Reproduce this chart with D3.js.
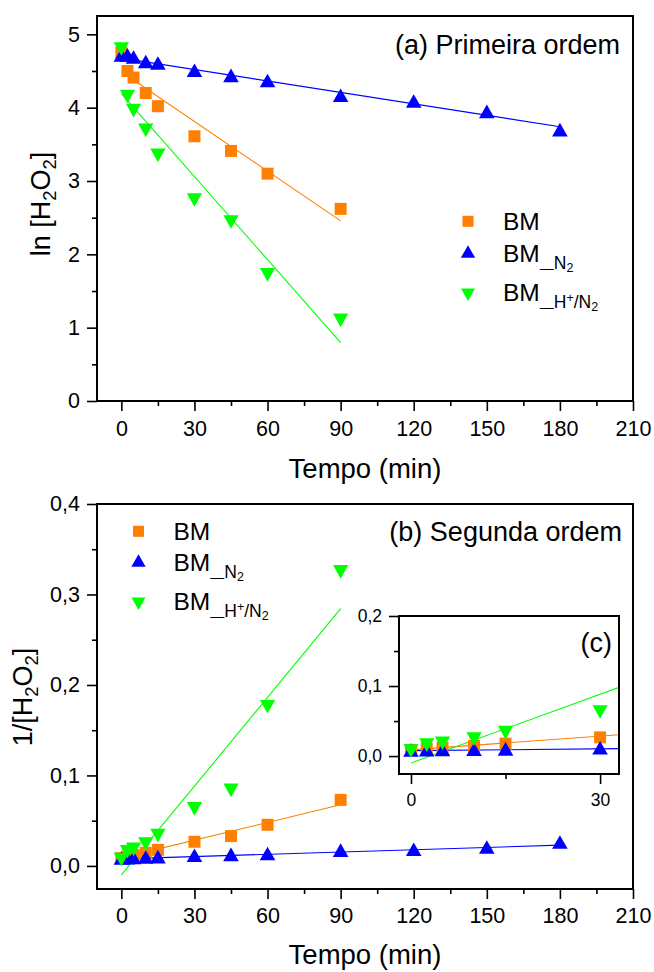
<!DOCTYPE html>
<html><head><meta charset="utf-8">
<script src="https://cdn.jsdelivr.net/npm/d3@7"></script>
<style>
body{margin:0;background:#fff}
svg{display:block}
text{font-family:"Liberation Sans",Arial,Helvetica,sans-serif;fill:#000}
</style>
</head><body>
<svg id="chart" width="654" height="972"></svg>
<script>
// ---------------- data ----------------
const timeBM  = [0, 2.5, 5, 10, 15, 30, 45, 60, 90];
const timeN2  = [0, 2.5, 5, 10, 15, 30, 45, 60, 90, 120, 150, 180];
const timeHN2 = [0, 2.5, 5, 10, 15, 30, 45, 60, 90];

// (a) ln[H2O2]
const lnBM  = [4.75, 4.50, 4.41, 4.20, 4.02, 3.61, 3.41, 3.10, 2.62];
const lnN2  = [4.72, 4.72, 4.69, 4.63, 4.61, 4.51, 4.44, 4.37, 4.17, 4.09, 3.95, 3.70];
const lnHN2 = [4.80, 4.15, 3.96, 3.69, 3.35, 2.74, 2.44, 1.72, 1.10];

// (b) 1/[H2O2]
const invBM  = [0.0087, 0.0105, 0.012, 0.0145, 0.0178, 0.0267, 0.033, 0.0455, 0.073];
const invN2  = [0.0088, 0.009, 0.0093, 0.0098, 0.0103, 0.0118, 0.0128, 0.0138, 0.0175, 0.0185, 0.021, 0.0265];
const invHN2 = [0.007, 0.0157, 0.0183, 0.0242, 0.0335, 0.063, 0.0835, 0.176, 0.325];

// linear fits: [intercept, slope, tStart, tEnd]
const fitLnBM  = [4.49, -0.0226, 0, 90];
const fitLnN2  = [4.676, -0.0052, 0, 180];
const fitLnHN2 = [4.19, -0.0377, 0, 90];
const fitInvBM  = [0.0089, 0.000652, 0, 90];
const fitInvN2  = [0.0078, 0.0000842, 0, 180];
const fitInvHN2 = [-0.0099, 0.00327, 0, 90];

// ticks
const xTicks = [0, 30, 60, 90, 120, 150, 180, 210];
const xMinor = [15, 45, 75, 105, 135, 165, 195];
const lnTicks = [0, 1, 2, 3, 4, 5];
const lnMinor = [0.5, 1.5, 2.5, 3.5, 4.5];
const invTicks = [0, 0.1, 0.2, 0.3, 0.4];
const invMinor = [0.05, 0.15, 0.25, 0.35];
const insetXTicks = [0, 30];
const insetXMinor = [15];
const insetYTicks = [0, 0.1, 0.2];
const insetYMinor = [0.05, 0.15];

const seriesNames = ["BM", "BM_N2", "BM_H+/N2"];
const colors = ["#FF8000", "#0000FF", "#00FF00"];

// ---------------- drawing ----------------
const svg = d3.select("#chart");
const comma = d3.formatLocale({decimal: ",", thousands: ".", grouping: [3], currency: ["", ""]}).format(".1f");

const shapes = {
  square: "M-6,-6h12v12h-12z",
  up: "M0,-6.8L7.8,6.8L-7.8,6.8Z",
  down: "M-7.6,-6.8L7.6,-6.8L0,6.8Z"
};
const shapeOf = ["square", "up", "down"];

function drawAxes(g, x, y, o) {
  const [x0, x1] = x.range();
  const [y0, y1] = y.range();
  const styleAxis = s => {
    s.select(".domain").remove();
    s.selectAll(".tick line").attr("stroke", "#000").attr("stroke-width", 1.6);
    s.selectAll(".tick text").style("font-size", o.fs + "px").attr("fill", "#000");
  };
  g.append("g").attr("transform", `translate(0,${y0})`)
    .call(d3.axisBottom(x).tickValues(o.xt).tickSize(o.tick).tickPadding(o.padX).tickFormat(d3.format("d")))
    .call(styleAxis);
  g.append("g").attr("transform", `translate(0,${y0})`)
    .call(d3.axisBottom(x).tickValues(o.xm).tickSize(o.tick / 2).tickFormat(""))
    .call(styleAxis);
  g.append("g").attr("transform", `translate(${x0},0)`)
    .call(d3.axisLeft(y).tickValues(o.yt).tickSize(o.tick).tickPadding(o.padY).tickFormat(o.fmtY))
    .call(styleAxis);
  g.append("g").attr("transform", `translate(${x0},0)`)
    .call(d3.axisLeft(y).tickValues(o.ym).tickSize(o.tick / 2).tickFormat(""))
    .call(styleAxis);
  g.append("rect").attr("x", x0).attr("y", y1).attr("width", x1 - x0).attr("height", y0 - y1)
    .attr("fill", "none").attr("stroke", "#000").attr("stroke-width", 2);
}

function drawFits(g, x, y, fits) {
  fits.forEach((f, i) => {
    const [a, b, t0, t1] = f;
    g.append("line")
      .attr("x1", x(t0)).attr("y1", y(a + b * t0))
      .attr("x2", x(t1)).attr("y2", y(a + b * t1))
      .attr("stroke", colors[i]).attr("stroke-width", 1.1);
  });
}

function drawPoints(g, x, y, sets, tMax) {
  sets.forEach((s, i) => {
    const pts = s.t.map((t, k) => [t, s.v[k]]).filter(p => p[0] <= tMax);
    g.selectAll(null).data(pts).join("path")
      .attr("d", shapes[shapeOf[i]])
      .attr("transform", d => `translate(${x(d[0])},${y(d[1])})`)
      .attr("fill", colors[i]);
  });
}

function legendLabel(t, i) {
  t.append("tspan").text("BM");
  if (i === 0) return;
  const sub = 17.5, sub2 = 12.5;
  t.append("tspan").attr("dy", 10.8).style("font-size", "14px").text("\u2014");
  if (i === 1) {
    t.append("tspan").attr("dy", -3.4).style("font-size", sub + "px").text("N");
    t.append("tspan").attr("dy", 2.5).style("font-size", sub2 + "px").text("2");
  } else {
    t.append("tspan").attr("dy", -3.4).style("font-size", sub + "px").text("H");
    t.append("tspan").attr("dy", -6).style("font-size", sub2 + "px").text("+");
    t.append("tspan").attr("dy", 6).style("font-size", sub + "px").text("/N");
    t.append("tspan").attr("dy", 2.5).style("font-size", sub2 + "px").text("2");
  }
}

function drawLegend(g, mx, baselines) {
  const off = [-8.7, -10.4, -6.3];
  baselines.forEach((b, i) => {
    g.append("path").attr("d", shapes[shapeOf[i]])
      .attr("transform", `translate(${mx},${b + off[i]}) scale(0.92)`)
      .attr("fill", colors[i]);
    const t = g.append("text").attr("x", mx + 35).attr("y", b).style("font-size", "24.5px");
    legendLabel(t, i);
  });
}

function yTitle(g, tx, ty, lead) {
  const t = g.append("text").attr("transform", `translate(${tx},${ty}) rotate(-90)`)
    .attr("text-anchor", "middle").style("font-size", "27px");
  t.append("tspan").text(lead + "[H");
  t.append("tspan").attr("dy", 6).style("font-size", "18.5px").text("2");
  t.append("tspan").attr("dy", -6).text("O");
  t.append("tspan").attr("dy", 6).style("font-size", "18.5px").text("2");
  t.append("tspan").attr("dy", -6).text("]");
}

// ---------- panel (a) ----------
const xA = d3.scaleLinear().domain([-10, 210]).range([97, 633]);
const yA = d3.scaleLinear().domain([0, 5.25]).range([401, 16]);
const gA = svg.append("g");
drawFits(gA, xA, yA, [fitLnBM, fitLnN2, fitLnHN2]);
drawPoints(gA, xA, yA, [{t: timeBM, v: lnBM}, {t: timeN2, v: lnN2}, {t: timeHN2, v: lnHN2}], 1e9);
drawAxes(gA, xA, yA, {xt: xTicks, xm: xMinor, yt: lnTicks, ym: lnMinor, tick: 10, padX: 10, padY: 7, fs: 21.5, fmtY: d3.format("d")});
gA.append("text").attr("x", 620).attr("y", 54).attr("text-anchor", "end").style("font-size", "27px").text("(a) Primeira ordem");
drawLegend(gA, 468, [230, 262, 301]);
gA.append("text").attr("x", 365).attr("y", 478).attr("text-anchor", "middle").style("font-size", "27.5px").text("Tempo (min)");
yTitle(gA, 50, 204, "ln ");

// ---------- panel (b) ----------
const xB = d3.scaleLinear().domain([-10, 210]).range([97, 633]);
const yB = d3.scaleLinear().domain([-0.0255, 0.4]).range([889, 504]);
const gB = svg.append("g");
drawFits(gB, xB, yB, [fitInvBM, fitInvN2, fitInvHN2]);
drawPoints(gB, xB, yB, [{t: timeBM, v: invBM}, {t: timeN2, v: invN2}, {t: timeHN2, v: invHN2}], 1e9);
drawAxes(gB, xB, yB, {xt: xTicks, xm: xMinor, yt: invTicks, ym: invMinor, tick: 10, padX: 9, padY: 7, fs: 21.5, fmtY: comma});
gB.append("text").attr("x", 622).attr("y", 541).attr("text-anchor", "end").style("font-size", "27px").text("(b) Segunda ordem");
drawLegend(gB, 138.5, [540, 571, 610]);
gB.append("text").attr("x", 365).attr("y", 964).attr("text-anchor", "middle").style("font-size", "27.5px").text("Tempo (min)");
yTitle(gB, 32, 697, "1/");

// ---------- inset (c) ----------
const xC = d3.scaleLinear().domain([-1.9, 33]).range([399, 619]);
const yC = d3.scaleLinear().domain([-0.0256, 0.2]).range([774, 616]);
const gC = svg.append("g");
gC.append("rect").attr("x", 399).attr("y", 616).attr("width", 220).attr("height", 158).attr("fill", "#fff");
svg.append("clipPath").attr("id", "clipC").append("rect").attr("x", 399).attr("y", 616).attr("width", 220).attr("height", 158);
const gCin = gC.append("g").attr("clip-path", "url(#clipC)");
drawFits(gCin, xC, yC, [fitInvBM, fitInvN2, fitInvHN2]);
drawPoints(gCin, xC, yC, [{t: timeBM, v: invBM}, {t: timeN2, v: invN2}, {t: timeHN2, v: invHN2}], 31);
drawAxes(gC, xC, yC, {xt: insetXTicks, xm: insetXMinor, yt: insetYTicks, ym: insetYMinor, tick: 10, padX: 10, padY: 7, fs: 17.5, fmtY: comma});
gC.append("text").attr("x", 612).attr("y", 652).attr("text-anchor", "end").style("font-size", "27px").text("(c)");
</script>
</body></html>
